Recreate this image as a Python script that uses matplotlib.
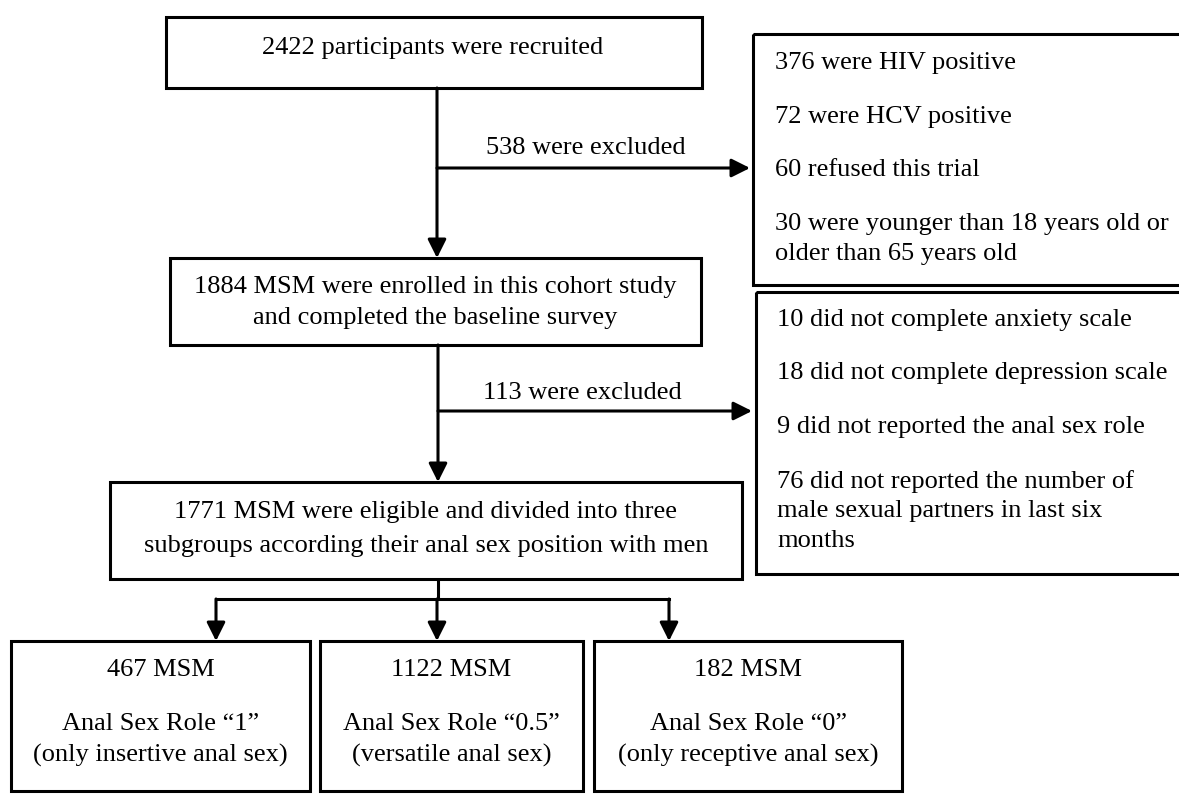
import matplotlib
matplotlib.use("Agg")
from matplotlib import pyplot as plt
from matplotlib.patches import Rectangle

plt.rcParams["font.family"] = ["Liberation Serif", "DejaVu Serif"]

W, H = 1179, 794
FONT = 19
LW = 2.2

# flow counts
recruited = 2422
enrolled = 1884
eligible = 1771
excluded_1 = recruited - enrolled
excluded_2 = enrolled - eligible
group_counts = [467, 1122, 182]
group_roles = ["\u201c1\u201d", "\u201c0.5\u201d", "\u201c0\u201d"]
group_desc = ["(only insertive anal sex)", "(versatile anal sex)", "(only receptive anal sex)"]

reasons_1 = ["376 were HIV positive", "72 were HCV positive", "60 refused this trial",
             "30 were younger than 18 years old or\nolder than 65 years old"]
reasons_2 = ["10 did not complete anxiety scale", "18 did not complete depression scale",
             "9 did not reported the anal sex role",
             "76 did not reported the number of\nmale sexual partners in last six\nmonths"]


def box(ax, x0, y0, x1, y1):
    ax.add_patch(Rectangle((x0, y0), x1 - x0, y1 - y0, fill=False, lw=LW, ec="black"))


def arrow(ax, x0, y0, x1, y1):
    ax.annotate("", xy=(x1, y1), xytext=(x0, y0),
                arrowprops=dict(arrowstyle="-|>", lw=LW, color="black",
                                mutation_scale=28, shrinkA=0, shrinkB=0))


fig = plt.figure(figsize=(W / 100, H / 100), dpi=100)
ax = fig.add_axes([0, 0, 1, 1])
ax.set_xlim(0, W)
ax.set_ylim(H, 0)
ax.axis("off")

# main column
box(ax, 166, 17, 702, 88)
ax.text(433, 48, "{} participants were recruited".format(recruited), ha="center", va="center", fontsize=FONT)

box(ax, 170, 258, 701, 345)
ax.text(435, 287, "{} MSM were enrolled in this cohort study".format(enrolled), ha="center", va="center", fontsize=FONT)
ax.text(435, 318, "and completed the baseline survey", ha="center", va="center", fontsize=FONT)

box(ax, 110, 482, 742, 579)
ax.text(426, 512, "{} MSM were eligible and divided into three".format(eligible), ha="center", va="center", fontsize=FONT)
ax.text(426, 546, "subgroups according their anal sex position with men", ha="center", va="center", fontsize=FONT)

arrow(ax, 437, 88, 437, 258)
arrow(ax, 437, 168, 750, 168)
ax.text(586, 148, "{} were excluded".format(excluded_1), ha="center", va="center", fontsize=FONT)

arrow(ax, 438, 345, 438, 482)
arrow(ax, 438, 411, 752, 411)
ax.text(582, 393, "{} were excluded".format(excluded_2), ha="center", va="center", fontsize=FONT)

# exclusion boxes
box(ax, 753, 34, 1185, 285)
for y, txt in zip([63, 117, 170, 239], reasons_1):
    ax.text(775, y, txt, ha="left", va="center", fontsize=FONT, linespacing=1.43)

box(ax, 756, 292, 1185, 574)
for y, txt in zip([320, 373, 427, 511], reasons_2):
    ax.text(777, y, txt, ha="left", va="center", fontsize=FONT, linespacing=1.43)

# split into subgroups
arrow_x = [216, 437, 669]
ax.plot([438, 438], [579, 599], color="black", lw=LW, solid_capstyle="butt")
ax.plot([arrow_x[0], arrow_x[-1]], [599, 599], color="black", lw=LW, solid_capstyle="projecting")
for x in arrow_x:
    arrow(ax, x, 599, x, 641)

box_edges = [(11, 310), (320, 583), (594, 902)]
for (x0, x1), n, role, desc in zip(box_edges, group_counts, group_roles, group_desc):
    box(ax, x0, 641, x1, 791)
    cx = (x0 + x1) / 2
    ax.text(cx, 670, "{} MSM".format(n), ha="center", va="center", fontsize=FONT)
    ax.text(cx, 724, "Anal Sex Role " + role, ha="center", va="center", fontsize=FONT)
    ax.text(cx, 755, desc, ha="center", va="center", fontsize=FONT)

fig.savefig("out.png", dpi=100, facecolor="white")
